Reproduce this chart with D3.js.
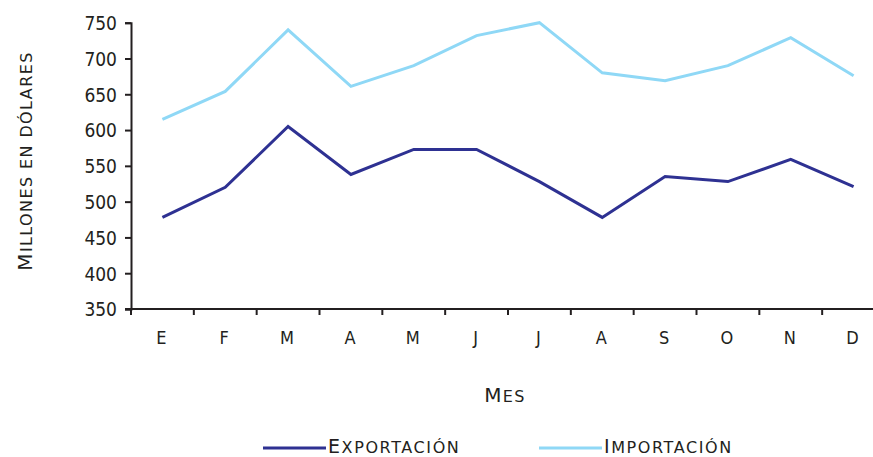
<!DOCTYPE html>
<html>
<head>
<meta charset="utf-8">
<script src="https://cdn.jsdelivr.net/npm/d3@7"></script>
<style>
    body { margin: 0; background: #fff; }
    svg { display: block; }
</style>
</head>
<body>
<svg id="chart"></svg>
<script>
// month initials along the x axis
const months = ["E", "F", "M", "A", "M", "J", "J", "A", "S", "O", "N", "D"];
const exportacion = [478, 520, 605, 538, 573, 573, 528, 478, 535, 528, 559, 521];
const importacion = [615, 654, 740, 661, 690, 732, 750, 680, 669, 690, 729, 676];
const yTicks = [350, 400, 450, 500, 550, 600, 650, 700, 750];

const width = 873, height = 457;
const axisColor = "#231f20";
const tickFont = "'Liberation Sans Narrow', 'DejaVu Sans Condensed', sans-serif";
const titleFont = "'DejaVu Sans', sans-serif";

const svg = d3.select("#chart").attr("width", width).attr("height", height);

const x = d3.scaleBand().domain(d3.range(months.length)).range([131, 885]);
const y = d3.scaleLinear().domain([350, 750]).range([309, 22.7]);

// small caps by hand: first letter big, the rest upper case at a smaller size
function smallCaps(sel, str, big, small) {
    sel.append("tspan").style("font-size", big + "px").text(str[0]);
    sel.append("tspan").style("font-size", small + "px").text(str.slice(1).toUpperCase());
}

// y axis
const yAxis = svg.append("g")
    .attr("transform", "translate(131,0)")
    .call(d3.axisLeft(y).tickValues(yTicks).tickSize(6).tickPadding(8));
yAxis.select(".domain").attr("stroke", axisColor).attr("stroke-width", 2);
yAxis.selectAll(".tick line").attr("stroke", axisColor).attr("stroke-width", 2);
yAxis.selectAll(".tick text")
    .attr("fill", axisColor)
    .style("font-family", tickFont)
    .style("font-size", "19px")
    .attr("dy", "0.36em");

// x axis: ticks on the band boundaries
const xAxis = svg.append("g").attr("transform", "translate(0,309)");
xAxis.append("line")
    .attr("x1", 125).attr("x2", width)
    .attr("stroke", axisColor).attr("stroke-width", 2);
xAxis.selectAll("line.tk")
    .data(d3.range(months.length))
    .enter()
    .append("line")
    .attr("class", "tk")
    .attr("x1", d => x(d)).attr("x2", d => x(d))
    .attr("y1", 0).attr("y2", 6)
    .attr("stroke", axisColor).attr("stroke-width", 2);
xAxis.selectAll("text")
    .data(months)
    .enter()
    .append("text")
    .attr("x", (d, i) => x(i) + x.bandwidth() / 2 - 1)
    .attr("y", 35)
    .attr("text-anchor", "middle")
    .attr("fill", axisColor)
    .style("font-family", tickFont)
    .style("font-size", "18px")
    .text(d => d);

// lines
const line = d3.line()
    .x((d, i) => x(i) + x.bandwidth() / 2)
    .y(d => y(d));

const series = [
    { name: "Exportación", values: exportacion, color: "#2e3192" },
    { name: "Importación", values: importacion, color: "#8fd8f6" }
];

svg.selectAll("path.series")
    .data(series)
    .enter()
    .append("path")
    .attr("class", "series")
    .attr("d", d => line(d.values))
    .attr("fill", "none")
    .attr("stroke", d => d.color)
    .attr("stroke-width", 3)
    .attr("stroke-linejoin", "miter");

// axis titles
const yTitle = svg.append("text")
    .attr("transform", "translate(32,161) rotate(-90)")
    .attr("text-anchor", "middle")
    .attr("fill", axisColor)
    .style("font-family", titleFont)
    .style("letter-spacing", "1.4px");
smallCaps(yTitle, "Millones en dólares", 20, 16);

const xTitle = svg.append("text")
    .attr("x", 505).attr("y", 402)
    .attr("text-anchor", "middle")
    .attr("fill", axisColor)
    .style("font-family", titleFont)
    .style("letter-spacing", "1.4px");
smallCaps(xTitle, "Mes", 20, 16);

// legend
const legendX = [263, 539];
const legend = svg.selectAll("g.legend")
    .data(series)
    .enter()
    .append("g")
    .attr("class", "legend")
    .attr("transform", (d, i) => `translate(${legendX[i]},448)`);
legend.append("line")
    .attr("x1", 0).attr("x2", 63)
    .attr("stroke", d => d.color)
    .attr("stroke-width", 3);
legend.append("text")
    .attr("x", 65).attr("y", 4.5)
    .attr("fill", axisColor)
    .style("font-family", titleFont)
    .style("letter-spacing", "1.6px")
    .each(function(d) { smallCaps(d3.select(this), d.name, 19, 16); });
</script>
</body>
</html>
